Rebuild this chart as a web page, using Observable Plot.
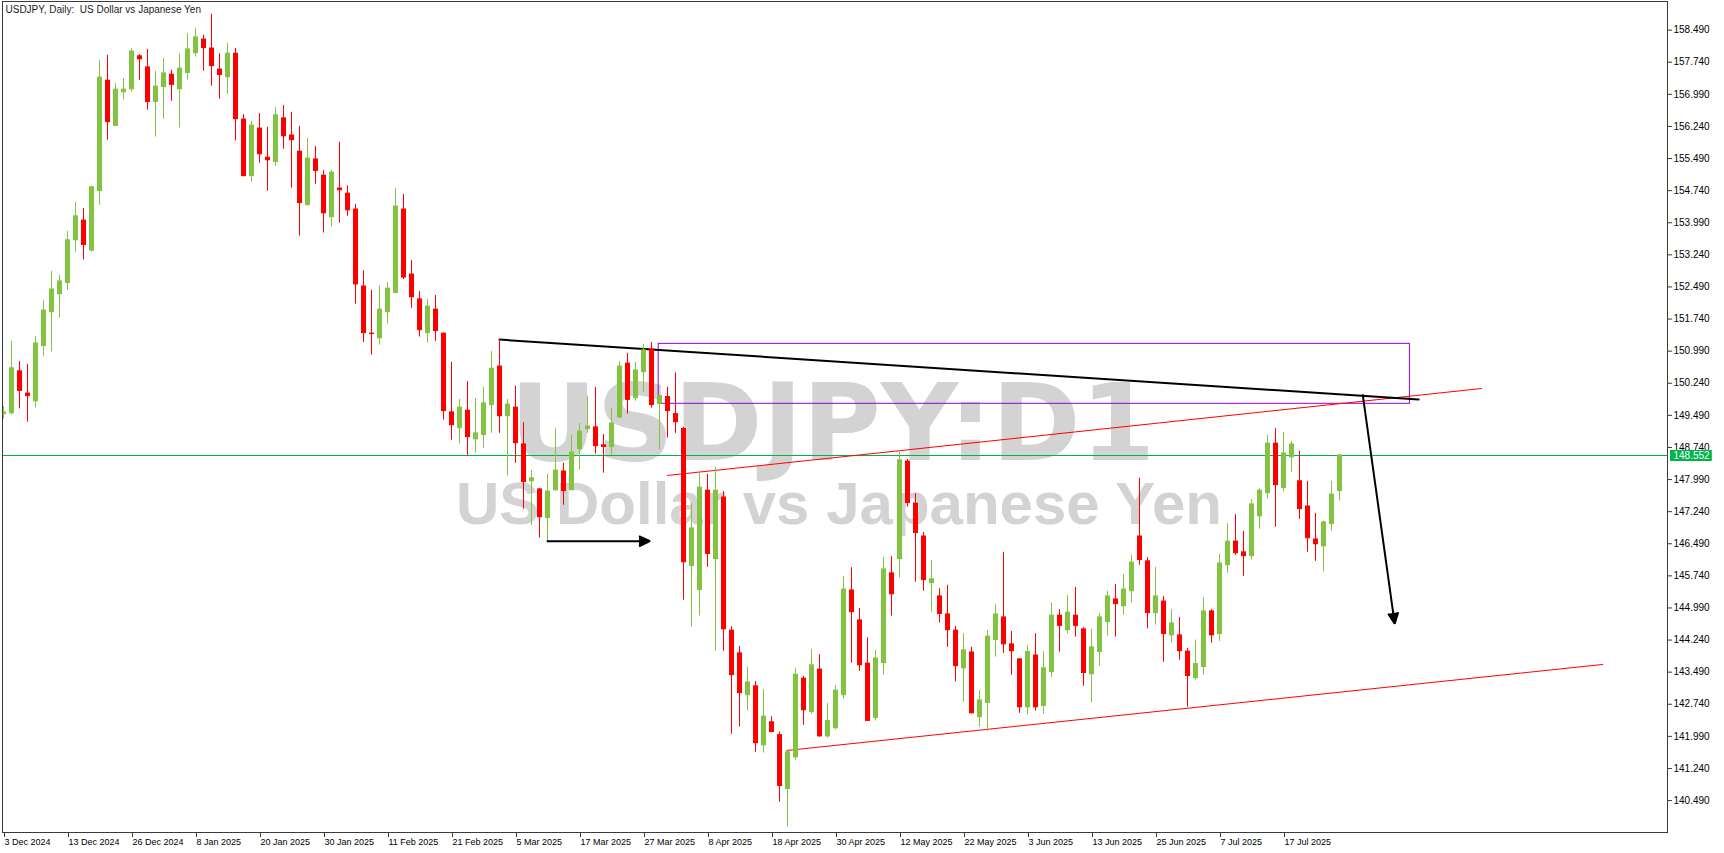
<!DOCTYPE html>
<html>
<head>
<meta charset="utf-8">
<script src="https://cdn.jsdelivr.net/npm/d3@7"></script>
<script src="https://cdn.jsdelivr.net/npm/@observablehq/plot@0.6"></script>
<style>
html, body { margin: 0; padding: 0; background: #ffffff; }
#chart svg { display: block; }
</style>
</head>
<body>
<div id="chart"></div>
<script>
// ---- Data: USDJPY daily candles (index 0 = 3 Dec 2024) ----
const opens = [
149.52,149.54,150.52,150.00,149.82,151.11,151.90,152.32,152.58,153.58,
154.04,153.34,154.73,157.31,156.25,157.04,157.11,157.88,157.62,156.81,
157.16,157.45,157.11,157.49,157.95,158.27,158.06,157.57,157.39,157.94,
156.40,155.08,156.19,155.51,155.41,156.43,156.03,155.65,154.40,155.47,
155.09,154.12,154.79,154.67,154.30,152.50,151.40,151.29,151.90,152.35,
154.30,152.78,152.20,151.41,151.96,151.40,149.56,149.19,149.60,148.93,
149.03,149.73,150.63,149.47,149.67,148.81,147.95,147.76,147.09,147.74,
148.18,147.74,148.70,149.17,149.21,148.79,148.75,149.44,150.70,149.89,
150.50,151.03,149.76,149.92,149.52,149.17,145.97,145.41,147.73,146.13,
147.57,144.46,143.93,142.95,143.16,141.78,142.32,142.02,140.76,141.50,
143.34,142.56,143.55,141.99,142.18,142.95,145.40,144.70,143.69,142.42,
143.70,145.80,146.13,148.41,147.43,146.66,145.57,145.26,144.84,144.46,
143.58,143.95,142.44,142.77,144.24,144.77,144.14,143.79,142.67,143.88,
142.70,143.49,144.81,144.47,144.81,144.49,143.44,143.96,144.66,145.19,
145.03,145.38,146.66,146.08,144.87,145.14,144.35,144.35,143.97,143.35,
143.61,144.91,144.38,145.99,146.54,146.29,146.20,147.13,147.67,148.83,
147.79,148.51,147.95,147.36,146.59,146.43,146.95,147.72
];
const highs = [
149.70,151.22,150.75,150.68,151.33,152.17,152.85,152.76,153.79,154.46,
154.32,154.84,157.78,157.90,157.24,157.36,158.06,157.92,158.04,157.53,
157.83,157.55,157.94,158.41,158.53,158.37,158.86,157.94,158.18,158.06,
156.52,156.36,156.54,156.22,156.68,156.73,156.57,156.24,155.96,155.77,
155.21,155.21,155.87,154.85,154.42,152.87,152.41,152.52,152.59,154.79,
154.65,153.11,152.38,152.20,152.29,151.41,150.73,149.86,150.28,149.88,
150.14,150.98,151.26,149.86,150.17,149.32,148.20,147.78,148.11,149.18,
148.37,149.02,149.30,149.93,150.14,149.04,149.65,150.75,150.94,150.73,
151.15,151.19,149.95,150.15,150.48,149.21,147.43,148.16,148.11,148.27,
147.71,144.55,144.09,143.60,143.27,143.08,142.45,142.09,141.67,143.58,
143.39,144.02,143.90,142.76,143.18,145.72,145.93,144.98,144.29,144.00,
146.17,146.19,148.62,148.46,147.66,146.75,146.10,145.44,145.52,144.56,
144.39,144.07,143.06,144.46,145.07,146.29,144.44,143.80,144.11,144.39,
143.97,145.11,144.95,145.28,145.47,144.53,144.49,144.86,145.38,145.54,
145.77,146.22,148.02,146.17,145.94,145.26,144.95,144.77,144.04,144.24,
145.23,144.95,146.24,146.96,147.17,146.78,147.52,147.78,149.02,149.18,
149.09,148.88,148.65,147.95,147.20,147.02,147.95,148.58
];
const lows = [
149.40,149.50,149.64,149.33,149.66,150.87,150.97,151.76,152.41,153.30,
153.12,153.30,154.40,155.92,156.24,156.86,157.04,157.32,156.62,155.99,
156.41,156.83,156.20,157.32,157.86,157.53,157.18,156.88,156.99,155.90,
155.06,154.94,155.38,154.73,155.31,155.71,154.80,153.68,154.39,154.89,
153.75,153.89,153.98,154.14,152.09,151.19,150.90,151.13,151.62,152.34,
152.66,151.99,151.32,151.18,151.22,149.38,148.91,148.82,148.54,148.61,
148.72,149.07,149.07,148.07,148.37,147.30,146.92,146.62,146.55,147.72,
147.39,147.73,148.21,149.07,148.58,148.14,148.56,149.42,149.52,149.82,
150.03,149.66,148.68,148.96,149.07,145.17,144.54,144.80,145.94,143.98,
143.98,142.04,142.21,142.58,141.62,141.60,142.08,140.45,139.87,141.43,
142.25,142.51,141.97,141.95,142.14,142.86,143.70,143.51,142.34,142.35,
143.42,144.80,145.69,147.35,145.59,145.38,144.89,144.64,144.07,143.26,
142.79,142.51,142.20,142.10,143.84,143.93,143.42,142.53,142.49,142.58,
142.51,143.37,143.96,144.38,144.31,143.16,142.77,143.63,144.33,144.31,
144.82,145.10,145.99,144.50,144.59,143.72,144.17,143.77,142.67,143.30,
143.42,144.17,144.21,145.80,146.22,145.73,146.11,146.83,147.53,146.88,
147.70,148.16,147.06,146.29,146.08,145.83,146.78,147.49
];
const closes = [
149.56,150.59,150.06,149.94,151.17,151.94,152.43,152.62,153.58,154.14,
153.47,154.82,157.38,156.34,157.10,157.10,157.99,157.81,156.81,157.17,
157.48,157.21,157.59,158.04,158.32,158.07,157.65,157.44,157.94,156.41,
155.08,156.26,155.59,155.45,156.50,156.01,155.92,154.45,155.49,155.20,
154.21,155.16,154.75,154.28,152.55,151.41,151.39,151.96,152.45,154.37,
152.71,152.25,151.48,152.03,151.46,149.59,149.26,149.67,148.98,149.07,
149.77,150.58,149.47,149.74,148.84,147.93,148.02,147.11,147.71,148.20,
147.72,148.62,149.11,149.23,148.77,148.75,149.30,150.63,149.85,150.54,
151.01,149.73,149.94,149.59,149.33,146.06,146.85,147.80,146.25,147.73,
144.49,143.42,143.00,143.25,141.83,142.45,142.09,140.83,141.62,143.43,
142.60,143.65,141.99,142.35,143.06,145.42,144.89,143.65,142.35,143.81,
145.89,145.31,148.44,147.44,146.74,145.64,145.66,144.85,144.47,143.63,
144.00,142.53,142.83,144.32,144.84,144.14,143.98,142.67,143.96,142.67,
143.58,144.81,144.57,144.88,144.57,143.47,144.07,144.77,145.26,145.08,
145.42,146.05,146.11,144.87,145.26,144.38,144.63,143.98,143.40,143.68,
144.91,144.35,146.03,146.54,146.27,146.20,147.41,147.73,148.83,147.86,
148.60,148.81,147.30,146.62,146.48,146.99,147.64,148.552
];

// Date labels of the time axis and the candle index each one sits on
const dateTickIndex = [0,8,16,24,32,40,48,56,64,72,80,88,96,104,112,120,128,136,144,152,160];
const dateTickLabels = ["3 Dec 2024","13 Dec 2024","26 Dec 2024","8 Jan 2025","20 Jan 2025","30 Jan 2025",
  "11 Feb 2025","21 Feb 2025","5 Mar 2025","17 Mar 2025","27 Mar 2025","8 Apr 2025","18 Apr 2025",
  "30 Apr 2025","12 May 2025","22 May 2025","3 Jun 2025","13 Jun 2025","25 Jun 2025","7 Jul 2025","17 Jul 2025"];

// Price axis labels
const priceTicks = [140.49,141.24,141.99,142.74,143.49,144.24,144.99,145.74,146.49,147.24,147.99,
  148.74,149.49,150.24,150.99,151.74,152.49,153.24,153.99,154.74,155.49,156.24,156.99,157.74,158.49];

const lastPrice = 148.552;

// Drawn objects (candle index, price)
const channelUpper = [{i: 83, p: 148.085}, {i: 184.75, p: 150.117}];
const channelLower = [{i: 97.9, p: 141.66}, {i: 199.9, p: 143.67}];
const resistanceLine = [{i: 62, p: 151.26}, {i: 176.9, p: 149.86}];
const zoneBox = [{i1: 81.9, i2: 175.8, p1: 149.76, p2: 151.16}];
const arrows = [
  {i1: 67.9, p1: 146.55, i2: 80.8, p2: 146.55},
  {i1: 169.9, p1: 149.98, i2: 173.9, p2: 144.62}
];

const titleText = "USDJPY, Daily:  US Dollar vs Japanese Yen";
const watermarkSymbol = "USDJPY:D1";
const watermarkName = "US Dollar vs Japanese Yen";

// ---- Build ----
const UP = "#82c341", DOWN = "#ff0000", BIDLINE = "#00b44b";
const bars = opens.map((o, i) => ({i, o, h: highs[i], l: lows[i], c: closes[i]}));
const candleColor = d => d.c >= d.o ? UP : DOWN;
const labelOf = new Map(dateTickIndex.map((t, k) => [t, dateTickLabels[k]]));

const W = 1724, H = 853;
const mL = 2, mR = 57, mT = 1, mB = 21;

const chart = Plot.plot({
  width: W,
  height: H,
  marginLeft: mL,
  marginRight: mR,
  marginTop: mT,
  marginBottom: mB,
  style: {background: "#ffffff", color: "#000000", fontFamily: "Liberation Sans", fontSize: "10px", overflow: "visible"},
  x: {type: "linear", domain: [-0.125, 208]},
  y: {type: "linear", domain: [139.744, 159.159]},
  color: {type: "identity"},
  marks: [
    // watermark
    Plot.text([watermarkSymbol], {frameAnchor: "top-left", dx: 830, dy: 458, text: d => d,
      textAnchor: "middle", lineAnchor: "bottom", fontFamily: "DejaVu Sans", fontWeight: "bold",
      fontSize: 107, fill: "#d3d3d3"}),
    Plot.text([watermarkName], {frameAnchor: "top-left", dx: 836.5, dy: 522, text: d => d,
      textAnchor: "middle", lineAnchor: "bottom", fontFamily: "Liberation Sans", fontWeight: "bold",
      fontSize: 60, fill: "#d3d3d3"}),
    // bid line
    Plot.ruleY([lastPrice], {stroke: BIDLINE, strokeWidth: 1}),
    // zone rectangle
    Plot.rect(zoneBox, {x1: "i1", x2: "i2", y1: "p1", y2: "p2", fill: "none", stroke: "#9400d3", strokeWidth: 1}),
    // channel lines
    Plot.line(channelUpper, {x: "i", y: "p", stroke: "#ff0000", strokeWidth: 1}),
    Plot.line(channelLower, {x: "i", y: "p", stroke: "#ff0000", strokeWidth: 1}),
    // resistance line
    Plot.line(resistanceLine, {x: "i", y: "p", stroke: "#000000", strokeWidth: 2}),
    // candle wicks and bodies
    Plot.ruleX(bars, {x: "i", y1: "l", y2: "h", stroke: candleColor, strokeWidth: 1, clip: true}),
    Plot.ruleX(bars, {x: "i", y1: d => Math.max(d.o, d.c), y2: d => Math.min(d.o, d.c),
      stroke: candleColor, strokeWidth: 5, insetTop: -0.5, insetBottom: -0.5, clip: true}),
    // arrows
    Plot.arrow(arrows, {x1: "i1", y1: "p1", x2: "i2", y2: "p2", stroke: "#000000", fill: "#000000",
      strokeWidth: 2, headAngle: 50, headLength: 9, strokeLinejoin: "miter", strokeLinecap: "butt"}),
    // frame
    Plot.frame({stroke: "#3a3a3a", strokeWidth: 1}),
    // axes
    Plot.axisX({anchor: "bottom", ticks: dateTickIndex, tickFormat: t => labelOf.get(t),
      tickSize: 5, tickPadding: 1, textAnchor: "start", dx: 1, label: null,
      fontSize: 9, fontFamily: "Liberation Sans", stroke: "#3a3a3a"}),
    Plot.axisY({anchor: "right", ticks: priceTicks, tickFormat: d => d.toFixed(3),
      tickSize: 4, tickPadding: 2, label: null, fontSize: 10, fontFamily: "Liberation Sans", stroke: "#3a3a3a"}),
    // last price tag
    Plot.ruleY([lastPrice], {x1: 208.375, x2: 213.6, stroke: BIDLINE, strokeWidth: 11}),
    Plot.text([lastPrice], {y: d => d, frameAnchor: "right", dx: 6, text: d => d.toFixed(3),
      textAnchor: "start", fill: "#ffffff", fontSize: 10, fontFamily: "Liberation Sans"}),
    // title
    Plot.text([titleText], {frameAnchor: "top-left", dx: 3, dy: 4, text: d => d, textAnchor: "start",
      lineAnchor: "top", fontSize: 10, fontFamily: "Liberation Sans", fill: "#1a1a1a"})
  ]
});

document.getElementById("chart").appendChild(chart);
</script>
</body>
</html>
